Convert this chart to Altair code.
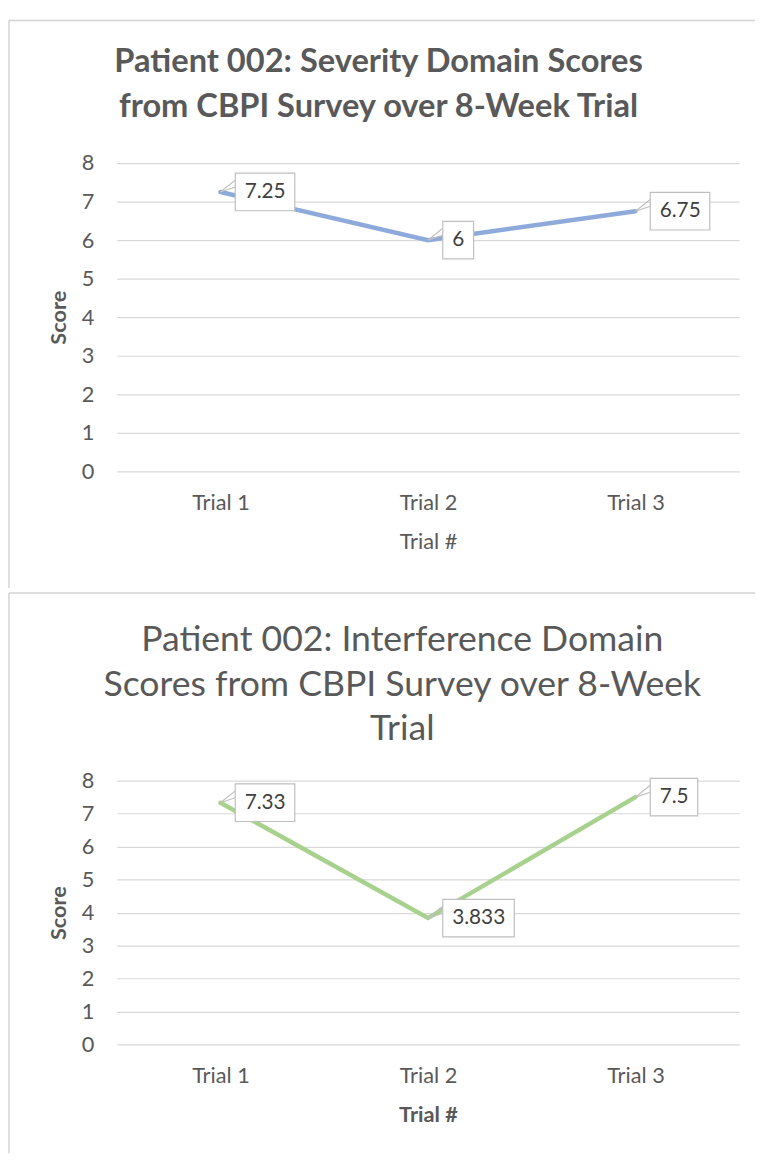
import altair as alt
import pandas as pd

# ---- data ----
trials = ["Trial 1", "Trial 2", "Trial 3"]
y_ticks = [0, 1, 2, 3, 4, 5, 6, 7, 8]
severity_scores = [7.25, 6.0, 6.75]
severity_labels = ["7.25", "6", "6.75"]
interference_scores = [7.33, 3.833, 7.5]
interference_labels = ["7.33", "3.833", "7.5"]
severity_title = ["Patient 002: Severity Domain Scores", "from CBPI Survey over 8-Week Trial"]
interference_title = ["Patient 002: Interference Domain", "Scores from CBPI Survey over 8-Week", "Trial"]

FONT = "Lato"
TEXT = "#595959"
GRID = "#d9d9d9"
BORDER = "#d4d4d4"
W = 630
PX_X = W / len(trials)
AX_FS = 22
LBL_FS = 21
label_expr = "[" + ",".join("'%s'" % t for t in trials) + "][datum.value]"


def panel(scores, labels, color, h, title_lines, title_bold, title_x, title_y, title_size,
          xtitle_bold, border_top, border_bottom):
    pxy = h / 8.0
    df = pd.DataFrame({"idx": list(range(len(trials))), "score": scores, "label": labels})

    def xe(field):
        return alt.X(field, type="quantitative",
                     scale=alt.Scale(domain=[-0.5, len(trials) - 0.5], nice=False, zero=False),
                     axis=alt.Axis(values=list(range(len(trials))), labelExpr=label_expr,
                                   grid=False, domain=False, ticks=False,
                                   labelFont=FONT, labelFontSize=AX_FS, labelColor=TEXT,
                                   labelBaseline="middle", labelPadding=32,
                                   title="Trial #", titleFont=FONT, titleFontSize=AX_FS,
                                   titleFontWeight="bold" if xtitle_bold else "normal",
                                   titleColor=TEXT, titleY=71, titleBaseline="middle"))

    def ye(field):
        return alt.Y(field, type="quantitative",
                     scale=alt.Scale(domain=[0, 8], nice=False),
                     axis=alt.Axis(values=y_ticks, grid=True, gridColor=GRID, gridWidth=1.2,
                                   domain=False, ticks=False,
                                   labelFont=FONT, labelFontSize=AX_FS, labelColor=TEXT,
                                   labelPadding=23,
                                   title="Score", titleFont=FONT, titleFontSize=AX_FS,
                                   titleFontWeight="bold", titleColor=TEXT,
                                   titleAngle=-90, titleX=-59, titleY=h / 2,
                                   titleAlign="center", titleBaseline="middle"))

    base = alt.Chart(df).transform_calculate(
        ndig="length(replace(datum.label, '.', ''))",
    ).transform_calculate(
        nper="length(datum.label) - datum.ndig",
    ).transform_calculate(
        bw="19 + 12.2*datum.ndig + 4.6*datum.nper",
    ).transform_calculate(
        bx1="datum.idx + %f" % (15 / PX_X),
        by1="datum.score - %f" % (19 / pxy),
        by2="datum.score + %f" % (19 / pxy),
        py1="datum.score + %f" % (12 / pxy),
        py2="datum.score + %f" % (5 / pxy),
    ).transform_calculate(
        bx2="datum.bx1 + datum.bw/%f" % PX_X,
        tx="datum.bx1 + %f" % (9.5 / PX_X),
    )

    one = alt.Chart(pd.DataFrame({"k": [0]}))
    layers = [
        one.mark_rule(color=BORDER, strokeWidth=1.5).encode(
            x=alt.value(-109), x2=alt.value(646), y=alt.value(border_top)),
        one.mark_rule(color=BORDER, strokeWidth=1.5).encode(
            x=alt.value(-109), y=alt.value(border_top), y2=alt.value(border_bottom)),
    ]
    if border_bottom < h + 100:
        layers.append(one.mark_rule(color=BORDER, strokeWidth=1.5).encode(
            x=alt.value(-109), x2=alt.value(646), y=alt.value(border_bottom)))

    title = one.mark_text(align="center", baseline="alphabetic", font=FONT,
                          fontSize=title_size, lineHeight=45,
                          fontWeight="bold" if title_bold else "normal",
                          color=TEXT).encode(
        x=alt.value(title_x), y=alt.value(title_y), text=alt.value(title_lines))

    line = base.mark_line(color=color, strokeWidth=4.5, strokeCap="round").encode(
        x=xe("idx"), y=ye("score"))
    p1 = base.mark_rule(color="#bfbfbf", strokeWidth=1.2).encode(
        x=xe("idx"), y=ye("score"), x2="bx1:Q", y2="py1:Q")
    p2 = base.mark_rule(color="#bfbfbf", strokeWidth=1.2).encode(
        x=xe("idx"), y=ye("score"), x2="bx1:Q", y2="py2:Q")
    box = base.mark_rect(fill="white", stroke="#bfbfbf", strokeWidth=1.2).encode(
        x=xe("bx1"), x2="bx2:Q", y=ye("by1"), y2="by2:Q")
    txt = base.mark_text(align="left", baseline="middle", font=FONT, fontSize=LBL_FS,
                         color="#404040").encode(
        x=xe("tx"), y=ye("score"), text="label:N")

    layers += [title, line, p1, p2, box, txt]
    return alt.layer(*layers).properties(width=W, height=h)


c1 = panel(severity_scores, severity_labels, "#8eaadb", 312, severity_title,
           True, 265, -92, 33, False, -144.3, 430)
c2 = panel(interference_scores, interference_labels, "#a9d18e", 267, interference_title,
           False, 289, -131, 36, True, -190, 377)

chart = alt.vconcat(c1, c2, spacing=3).properties(
    padding={"left": 0, "top": 4, "right": 0, "bottom": 0},
    background="white",
).configure_view(stroke=None)

chart.save("out.html", embed_options={"renderer": "svg", "actions": False})
